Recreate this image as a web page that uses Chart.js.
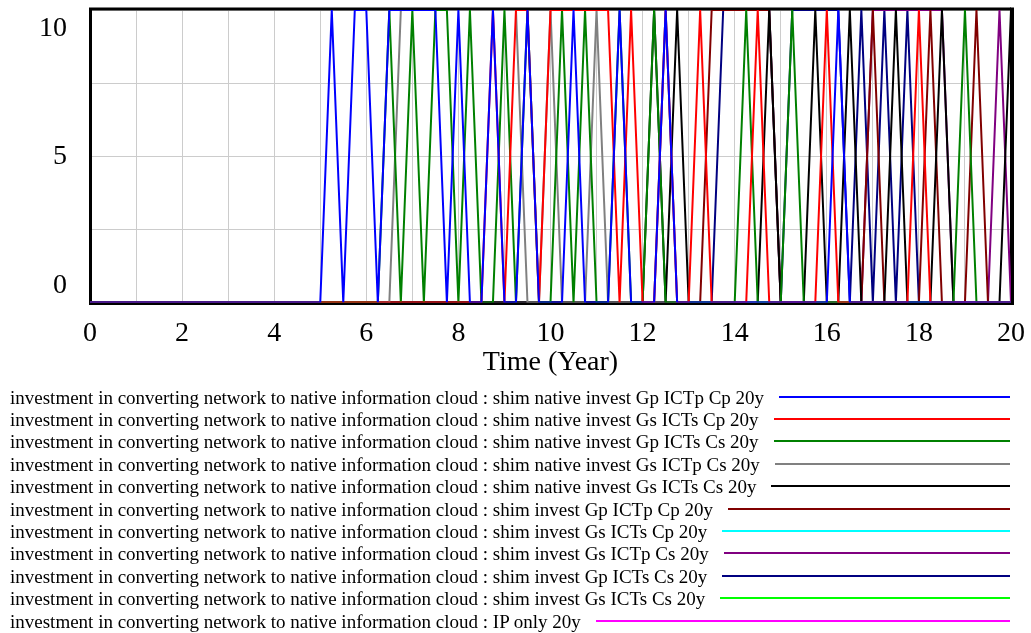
<!DOCTYPE html>
<html>
<head>
<meta charset="utf-8">
<script src="https://cdn.jsdelivr.net/npm/chart.js@4.4.0/dist/chart.umd.min.js"></script>
<style>
  html, body { margin: 0; padding: 0; background: #fff; }
  #wrap { position: relative; width: 1031px; height: 633px; overflow: hidden; background: #fff; }
  #chart { position: absolute; left: 0; top: 0; }
  #legend { position: absolute; left: 0; top: 0; width: 1031px; height: 633px;
            font-family: "Liberation Serif", "Times New Roman", serif; font-size: 19px; color: #000; }
  .row { position: absolute; left: 10px; width: 1000px; height: 22px; line-height: 22px;
         display: flex; white-space: nowrap; }
  .row .swatch { flex: 1; height: 2px; margin: 9px 0 0 15px; }
</style>
</head>
<body>
<div id="wrap">
  <canvas id="chart" width="1031" height="385"></canvas>
  <div id="legend"></div>
</div>
<script>
// Simulation time (years), step 0.25
const timeYears = [
  0, 0.25, 0.5, 0.75, 1, 1.25, 1.5, 1.75, 2, 2.25,
  2.5, 2.75, 3, 3.25, 3.5, 3.75, 4, 4.25, 4.5, 4.75,
  5, 5.25, 5.5, 5.75, 6, 6.25, 6.5, 6.75, 7, 7.25,
  7.5, 7.75, 8, 8.25, 8.5, 8.75, 9, 9.25, 9.5, 9.75,
  10, 10.25, 10.5, 10.75, 11, 11.25, 11.5, 11.75, 12, 12.25,
  12.5, 12.75, 13, 13.25, 13.5, 13.75, 14, 14.25, 14.5, 14.75,
  15, 15.25, 15.5, 15.75, 16, 16.25, 16.5, 16.75, 17, 17.25,
  17.5, 17.75, 18, 18.25, 18.5, 18.75, 19, 19.25, 19.5, 19.75,
  20
];

// Investment in converting network to native information cloud, per run
const nativeGpICTpCp = [
  0, 0, 0, 0, 0, 0, 0, 0, 0, 0,
  0, 0, 0, 0, 0, 0, 0, 0, 0, 0,
  0, 10, 0, 10, 10, 0, 10, 10, 10, 10,
  10, 0, 10, 0, 0, 10, 0, 0, 10, 0,
  0, 0, 10, 0, 0, 0, 10, 0, 0, 0,
  10, 0, 0, 0, 0, 0, 0, 0, 0, 0,
  0, 0, 0, 0, 0, 10, 0, 0, 0, 0,
  0, 0, 0, 0, 0, 0, 0, 0, 0, 0,
  0
];
const nativeGsICTsCp = [
  0, 0, 0, 0, 0, 0, 0, 0, 0, 0,
  0, 0, 0, 0, 0, 0, 0, 0, 0, 0,
  0, 0, 0, 0, 0, 0, 0, 0, 0, 0,
  0, 0, 0, 0, 0, 10, 0, 10, 10, 0,
  10, 10, 10, 10, 10, 10, 0, 10, 0, 0,
  10, 0, 0, 10, 0, 0, 0, 0, 10, 0,
  0, 0, 0, 0, 10, 0, 0, 0, 0, 0,
  0, 0, 10, 0, 0, 0, 0, 0, 0, 0,
  0
];
const nativeGpICTsCs = [
  0, 0, 0, 0, 0, 0, 0, 0, 0, 0,
  0, 0, 0, 0, 0, 0, 0, 0, 0, 0,
  0, 0, 0, 0, 0, 0, 10, 0, 10, 0,
  10, 10, 0, 10, 0, 0, 10, 0, 10, 0,
  0, 10, 0, 10, 0, 0, 10, 0, 0, 10,
  0, 0, 0, 0, 0, 0, 0, 10, 0, 0,
  0, 10, 0, 0, 0, 0, 0, 0, 0, 0,
  0, 0, 0, 0, 0, 0, 10, 0, 0, 0,
  0
];
const nativeGsICTpCs = [
  0, 0, 0, 0, 0, 0, 0, 0, 0, 0,
  0, 0, 0, 0, 0, 0, 0, 0, 0, 0,
  0, 0, 0, 0, 0, 0, 0, 10, 10, 10,
  10, 10, 10, 10, 10, 10, 10, 10, 0, 0,
  10, 0, 0, 0, 10, 0, 0, 0, 0, 0,
  10, 0, 0, 0, 0, 0, 0, 0, 0, 0,
  0, 0, 0, 0, 0, 0, 0, 0, 0, 0,
  0, 0, 0, 0, 0, 0, 0, 0, 0, 0,
  0
];
const nativeGsICTsCs = [
  0, 0, 0, 0, 0, 0, 0, 0, 0, 0,
  0, 0, 0, 0, 0, 0, 0, 0, 0, 0,
  0, 0, 0, 0, 0, 0, 0, 0, 0, 0,
  0, 0, 0, 0, 0, 0, 0, 0, 0, 0,
  0, 0, 0, 0, 0, 0, 0, 0, 0, 10,
  0, 10, 0, 0, 0, 0, 0, 0, 0, 10,
  0, 0, 0, 10, 0, 0, 10, 0, 0, 0,
  10, 0, 0, 0, 10, 0, 0, 0, 0, 0,
  10
];
const shimGpICTpCp = [
  0, 0, 0, 0, 0, 0, 0, 0, 0, 0,
  0, 0, 0, 0, 0, 0, 0, 0, 0, 0,
  0, 0, 0, 0, 0, 0, 0, 0, 0, 0,
  0, 0, 0, 0, 0, 0, 0, 0, 0, 0,
  0, 0, 0, 0, 0, 0, 0, 0, 0, 0,
  0, 0, 0, 0, 10, 10, 10, 10, 10, 10,
  0, 0, 0, 0, 0, 0, 0, 0, 10, 0,
  0, 0, 0, 10, 0, 0, 0, 10, 0, 0,
  0
];
const shimGsICTsCp = [
  0, 0, 0, 0, 0, 0, 0, 0, 0, 0,
  0, 0, 0, 0, 0, 0, 0, 0, 0, 0,
  0, 0, 0, 0, 0, 0, 0, 0, 0, 0,
  0, 0, 0, 0, 0, 0, 0, 0, 0, 0,
  0, 0, 0, 0, 0, 0, 0, 0, 0, 0,
  0, 0, 0, 0, 0, 0, 0, 0, 0, 0,
  0, 0, 0, 0, 0, 0, 0, 0, 0, 0,
  0, 0, 0, 0, 0, 0, 0, 0, 0, 0,
  0
];
const shimGsICTpCs = [
  0, 0, 0, 0, 0, 0, 0, 0, 0, 0,
  0, 0, 0, 0, 0, 0, 0, 0, 0, 0,
  0, 0, 0, 0, 0, 0, 0, 0, 0, 0,
  0, 0, 0, 0, 0, 0, 0, 0, 0, 0,
  0, 0, 0, 0, 0, 0, 0, 0, 0, 0,
  0, 0, 0, 0, 0, 0, 0, 0, 0, 0,
  0, 0, 0, 0, 0, 0, 0, 0, 10, 10,
  10, 10, 10, 10, 10, 0, 0, 0, 0, 10,
  0
];
const shimGpICTsCs = [
  0, 0, 0, 0, 0, 0, 0, 0, 0, 0,
  0, 0, 0, 0, 0, 0, 0, 0, 0, 0,
  0, 0, 0, 0, 0, 0, 0, 0, 0, 0,
  0, 0, 0, 0, 0, 0, 0, 0, 0, 0,
  0, 0, 0, 0, 0, 0, 0, 0, 0, 0,
  0, 0, 0, 0, 0, 10, 10, 10, 10, 10,
  0, 10, 10, 10, 10, 10, 0, 10, 0, 10,
  0, 10, 0, 0, 0, 0, 0, 0, 0, 0,
  0
];
const shimGsICTsCs = [
  0, 0, 0, 0, 0, 0, 0, 0, 0, 0,
  0, 0, 0, 0, 0, 0, 0, 0, 0, 0,
  0, 0, 0, 0, 0, 0, 0, 0, 0, 0,
  0, 0, 0, 0, 0, 0, 0, 0, 0, 0,
  0, 0, 0, 0, 0, 0, 0, 0, 0, 0,
  0, 0, 0, 0, 0, 0, 0, 0, 0, 0,
  0, 0, 0, 0, 0, 0, 0, 0, 0, 0,
  0, 0, 0, 0, 0, 0, 0, 0, 0, 0,
  0
];
const ipOnly = [
  0, 0, 0, 0, 0, 0, 0, 0, 0, 0,
  0, 0, 0, 0, 0, 0, 0, 0, 0, 0,
  0, 0, 0, 0, 0, 0, 0, 0, 0, 0,
  0, 0, 0, 0, 0, 0, 0, 0, 0, 0,
  0, 0, 0, 0, 0, 0, 0, 0, 0, 0,
  0, 0, 0, 0, 0, 0, 0, 0, 0, 0,
  0, 0, 0, 0, 0, 0, 0, 0, 0, 0,
  0, 0, 0, 0, 0, 0, 0, 0, 0, 0,
  0
];

const seriesNames = [
  "investment in converting network to native information cloud : shim native invest Gp ICTp Cp 20y",
  "investment in converting network to native information cloud : shim native invest Gs ICTs Cp 20y",
  "investment in converting network to native information cloud : shim native invest Gp ICTs Cs 20y",
  "investment in converting network to native information cloud : shim native invest Gs ICTp Cs 20y",
  "investment in converting network to native information cloud : shim native invest Gs ICTs Cs 20y",
  "investment in converting network to native information cloud : shim invest Gp ICTp Cp 20y",
  "investment in converting network to native information cloud : shim invest Gs ICTs Cp 20y",
  "investment in converting network to native information cloud : shim invest Gs ICTp Cs 20y",
  "investment in converting network to native information cloud : shim invest Gp ICTs Cs 20y",
  "investment in converting network to native information cloud : shim invest Gs ICTs Cs 20y",
  "investment in converting network to native information cloud : IP only 20y"
];
const seriesValues = [
  nativeGpICTpCp, nativeGsICTsCp, nativeGpICTsCs, nativeGsICTpCs, nativeGsICTsCs,
  shimGpICTpCp, shimGsICTsCp, shimGsICTpCs, shimGpICTsCs, shimGsICTsCs, ipOnly
];
const seriesColors = [
  "#0000ff", "#ff0000", "#008000", "#808080", "#000000",
  "#800000", "#00ffff", "#800080", "#000080", "#00ff00", "#ff00ff"
];

const xTickLabels = ["0", "2", "4", "6", "8", "10", "12", "14", "16", "18", "20"];
const yTickLabels = ["0", "5", "10"];
const yTickValues = [0, 5, 10];
const xAxisTitle = "Time (Year)";

const SERIF = "'Liberation Serif', 'Times New Roman', serif";

const datasets = seriesValues.map((vals, i) => ({
  label: seriesNames[i],
  data: timeYears.map((t, j) => ({ x: t, y: vals[j] })),
  borderColor: seriesColors[i],
  backgroundColor: seriesColors[i],
  borderWidth: 2,
  pointRadius: 0,
  tension: 0,
  fill: false
}));

// Heavy black box around the plot area, under the lines
const framePlugin = {
  id: 'frame',
  beforeDatasetsDraw(chart) {
    const { ctx, chartArea: a } = chart;
    ctx.save();
    ctx.strokeStyle = '#000';
    ctx.lineWidth = 3;
    ctx.beginPath();
    ctx.moveTo(a.left, a.top - 1);
    ctx.lineTo(a.right, a.top - 1);
    ctx.moveTo(a.left, a.bottom + 1);
    ctx.lineTo(a.right, a.bottom + 1);
    ctx.moveTo(a.left + 0.5, a.top - 2.5);
    ctx.lineTo(a.left + 0.5, a.bottom + 2.5);
    ctx.stroke();
    ctx.lineWidth = 4;
    ctx.beginPath();
    ctx.moveTo(a.right + 1, a.top - 2.5);
    ctx.lineTo(a.right + 1, a.bottom + 2.5);
    ctx.stroke();
    ctx.restore();
  }
};

// Value labels on the left axis; the end labels sit inside the plot's span
const yLabelPlugin = {
  id: 'yLabels',
  afterDraw(chart) {
    const { ctx } = chart;
    const y = chart.scales.y;
    ctx.save();
    ctx.font = '28px ' + SERIF;
    ctx.fillStyle = '#000';
    ctx.textAlign = 'right';
    ctx.textBaseline = 'middle';
    yTickValues.forEach((v, i) => {
      let py = y.getPixelForValue(v);
      if (v === y.max) py += 18.5;
      else if (v === y.min) py -= 17;
      ctx.fillText(yTickLabels[i], 67, py);
    });
    ctx.restore();
  }
};

new Chart(document.getElementById('chart'), {
  type: 'line',
  data: { datasets },
  options: {
    responsive: false,
    animation: false,
    devicePixelRatio: 1,
    events: [],
    layout: { padding: { left: 0, right: 20, top: 10, bottom: 0 } },
    plugins: {
      legend: { display: false },
      tooltip: { enabled: false },
      title: { display: false }
    },
    scales: {
      x: {
        type: 'linear',
        min: 0,
        max: 20,
        ticks: {
          stepSize: 1,
          autoSkip: false,
          maxRotation: 0,
          padding: 14,
          color: '#000',
          font: { family: SERIF, size: 28 },
          callback: (v) => {
            const r = Math.round(v);
            return r % 2 === 0 ? xTickLabels[r / 2] : '';
          }
        },
        grid: { color: 'rgb(204,204,204)', lineWidth: 1, drawTicks: false },
        border: { display: false },
        title: {
          display: true,
          text: xAxisTitle,
          color: '#000',
          font: { family: SERIF, size: 28 },
          padding: { top: 0, bottom: 6 }
        },
        afterFit: (s) => { s.height = 82.5; s.paddingLeft = 0; s.paddingRight = 0; }
      },
      y: {
        min: 0,
        max: 10,
        ticks: { stepSize: 2.5, display: false },
        grid: { color: 'rgb(204,204,204)', lineWidth: 1, drawTicks: false },
        border: { display: false },
        afterFit: (s) => { s.width = 90; s.paddingTop = 0; s.paddingBottom = 0; }
      }
    }
  },
  plugins: [framePlugin, yLabelPlugin]
});

// Legend: one row per run, label followed by a sample of its line
const legendEl = document.getElementById('legend');
seriesNames.forEach((name, i) => {
  const row = document.createElement('div');
  row.className = 'row';
  row.style.top = (386.6 + 22.4 * i) + 'px';
  const label = document.createElement('span');
  label.textContent = name;
  const swatch = document.createElement('div');
  swatch.className = 'swatch';
  swatch.style.background = seriesColors[i];
  row.appendChild(label);
  row.appendChild(swatch);
  legendEl.appendChild(row);
});
</script>
</body>
</html>
